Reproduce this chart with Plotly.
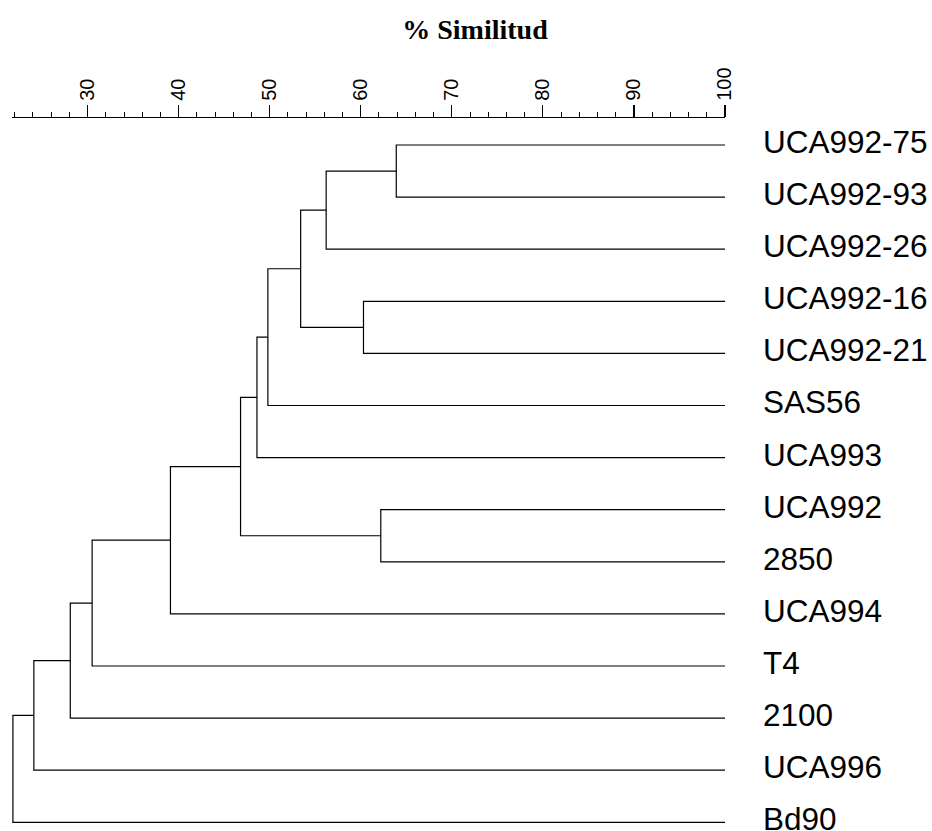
import plotly.graph_objects as go

# Leaves, top to bottom
labels = ["UCA992-75", "UCA992-93", "UCA992-26", "UCA992-16", "UCA992-21",
          "SAS56", "UCA993", "UCA992", "2850", "UCA994", "T4", "2100",
          "UCA996", "Bd90"]

# Merges: (child a, child b, similarity %). Children are leaf names or earlier merge ids.
merge_ids = ["A", "B", "C", "D", "E", "F", "G", "H", "I", "J", "K", "L", "M"]
merge_left = ["UCA992-75", "A", "UCA992-16", "B", "D", "E", "UCA992", "F", "H", "I", "J", "K", "L"]
merge_right = ["UCA992-93", "UCA992-26", "UCA992-21", "C", "SAS56", "UCA993", "2850", "G", "UCA994", "T4", "2100", "UCA996", "Bd90"]
merge_height = [63.9, 56.2, 60.3, 53.4, 49.8, 48.6, 62.2, 46.8, 39.1, 30.5, 28.1, 24.1, 21.8]

tick_vals = [30, 40, 50, 60, 70, 80, 90, 100]
tick_text = ["30", "40", "50", "60", "70", "80", "90", "100"]
leaf_sim = 100

pos = {name: (leaf_sim, i) for i, name in enumerate(labels)}
xs, ys = [], []
for mid, a, b, h in zip(merge_ids, merge_left, merge_right, merge_height):
    xa, ya = pos[a]
    xb, yb = pos[b]
    xs += [xa, h, h, xb, None]
    ys += [ya, ya, yb, yb, None]
    pos[mid] = (h, (ya + yb) / 2)

fig = go.Figure()
fig.add_trace(go.Scatter(x=xs, y=ys, mode="lines",
                         line=dict(color="black", width=1.2),
                         hoverinfo="skip", showlegend=False))

for i, name in enumerate(labels):
    fig.add_annotation(x=leaf_sim, y=i, text=name, showarrow=False,
                       xanchor="left", yanchor="middle", xshift=36, yshift=3,
                       font=dict(family="Liberation Sans, Arial", size=31.5, color="black"))

W, H = 932, 831
fig.update_layout(
    width=W, height=H,
    margin=dict(l=12, r=207, t=118, b=0),
    paper_bgcolor="white", plot_bgcolor="white",
    title=dict(text="<b>% Similitud</b>", x=475 / W, xanchor="center",
               y=1 - 29 / H, yanchor="middle",
               font=dict(family="Liberation Serif, Times New Roman", size=28, color="black")),
    xaxis=dict(side="top", range=[21.7, 100], showgrid=False, zeroline=False,
               showline=True, linecolor="black", linewidth=1.2,
               ticks="outside", ticklen=12, tickwidth=1.2, tickcolor="black",
               tickvals=tick_vals, ticktext=tick_text, tickangle=-90,
               ticklabelstandoff=0,
               tickfont=dict(family="Liberation Sans, Arial", size=20, color="black"),
               minor=dict(ticks="outside", ticklen=5, tickwidth=1, tickcolor="black",
                          tick0=0, dtick=2, showgrid=False)),
    yaxis=dict(visible=False, range=[13.167, -0.518]),
)

fig.write_html("out.html",
               config={"displayModeBar": False, "staticPlot": True},
               post_script="document.body.style.margin='0';document.body.style.overflow='hidden';")
